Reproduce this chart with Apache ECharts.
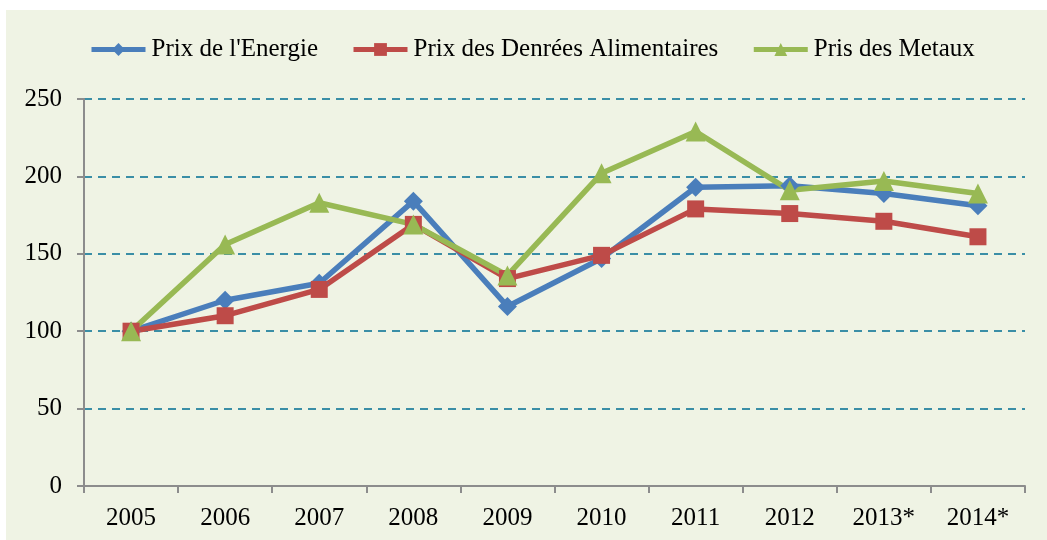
<!DOCTYPE html>
<html>
<head>
<meta charset="utf-8">
<script src="https://cdn.jsdelivr.net/npm/echarts@6/dist/echarts.min.js"></script>
<style>
html,body{margin:0;padding:0;background:#fff;width:1047px;height:540px;overflow:hidden;}
#chart{position:absolute;left:6px;top:10px;width:1041px;height:530px;}
</style>
</head>
<body>
<div id="chart"></div>
<script>
const categories = ['2005','2006','2007','2008','2009','2010','2011','2012','2013*','2014*'];
const energie = [100,120,131,184,116,147,193,194,189,181];
const denrees = [100,110,127,169,134,149,179,176,171,161];
const metaux  = [100,156,183,169,136,202,229,191,197,189];
const seriesNames = ["Prix de l'Energie","Prix des Denrées Alimentaires","Pris des Metaux"];

const font = 'Liberation Serif';
const chart = echarts.init(document.getElementById('chart'));
chart.setOption({
  backgroundColor: '#eff3e4',
  animation: false,
  textStyle: {fontFamily: font},
  legend: {
    top: 22,
    left: 78,
    itemGap: 33,
    itemWidth: 54,
    itemHeight: 16,
    lineStyle: {width: 5},
    textStyle: {fontFamily: font, fontSize: 25, color: '#000', padding: [0,0,0,1]},
    data: seriesNames
  },
  grid: {left: 78, right: 22, top: 89, bottom: 54},
  xAxis: {
    type: 'category',
    data: categories,
    boundaryGap: true,
    axisLine: {lineStyle: {color: '#8c8c8c', width: 2}},
    axisTick: {show: true, length: 7, lineStyle: {color: '#8c8c8c', width: 2}},
    axisLabel: {fontFamily: font, fontSize: 25, color: '#000', margin: 20}
  },
  yAxis: {
    type: 'value',
    min: 0, max: 250, interval: 50,
    axisLine: {show: true, lineStyle: {color: '#8c8c8c', width: 2}},
    axisTick: {show: true, length: 7, lineStyle: {color: '#8c8c8c', width: 2}},
    axisLabel: {fontFamily: font, fontSize: 25, color: '#000', margin: 22},
    splitLine: {show: true, lineStyle: {color: '#3a8ea6', width: 2, type: [8, 6]}}
  },
  series: [
    {name: seriesNames[0], type: 'line', data: energie, color: '#4a7ebb',
     symbol: 'diamond', symbolSize: 19, lineStyle: {width: 5.5}, itemStyle: {color: '#4a7ebb'}},
    {name: seriesNames[1], type: 'line', data: denrees, color: '#be4b48',
     symbol: 'rect', symbolSize: 17, lineStyle: {width: 5.5}, itemStyle: {color: '#be4b48'}},
    {name: seriesNames[2], type: 'line', data: metaux, color: '#98b954',
     symbol: 'triangle', symbolSize: 20, lineStyle: {width: 5.5}, itemStyle: {color: '#98b954'}}
  ]
});
</script>
</body>
</html>
